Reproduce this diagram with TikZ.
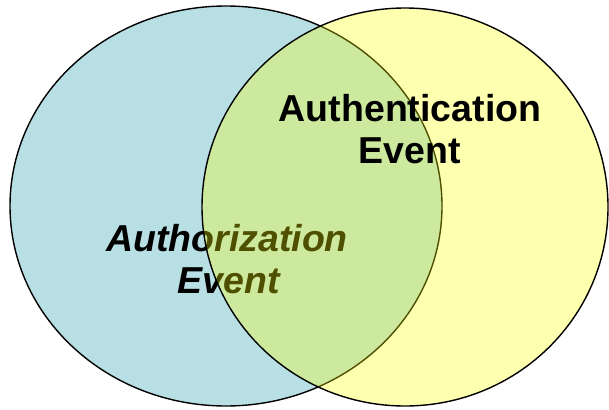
\documentclass[tikz,border=0pt]{standalone}
\usepackage{fontspec}
\setmainfont{Liberation Sans}
\definecolor{authblue}{RGB}{184,224,228}
\definecolor{authyellow}{RGB}{255,255,0}
\tikzset{
  lbl/.style={font=\fontsize{37.5}{44}\selectfont\bfseries, inner sep=0pt, anchor=base},
  ilbl/.style={lbl, font=\fontsize{37.5}{44}\selectfont\bfseries\itshape},
  ring/.style={draw=black, line width=1.4pt}
}
\begin{document}
\begin{tikzpicture}[x=1pt,y=-1pt]
\useasboundingbox (0,0) rectangle (609,409);
\path[ring, fill=authblue] (226,206) ellipse [x radius=216, y radius=200];
\node[ilbl] (authz1) at (227,251) {Authorization};
\node[ilbl] (authz2) at (229,293) {Event};
\path[fill=authyellow, fill opacity=0.31] (405,207) ellipse [x radius=203, y radius=199];
\path[ring] (405,207) ellipse [x radius=203, y radius=199];
\node[lbl] (authn1) at (410,121) {Authentication};
\node[lbl] (authn2) at (410,163) {Event};
\end{tikzpicture}
\end{document}
